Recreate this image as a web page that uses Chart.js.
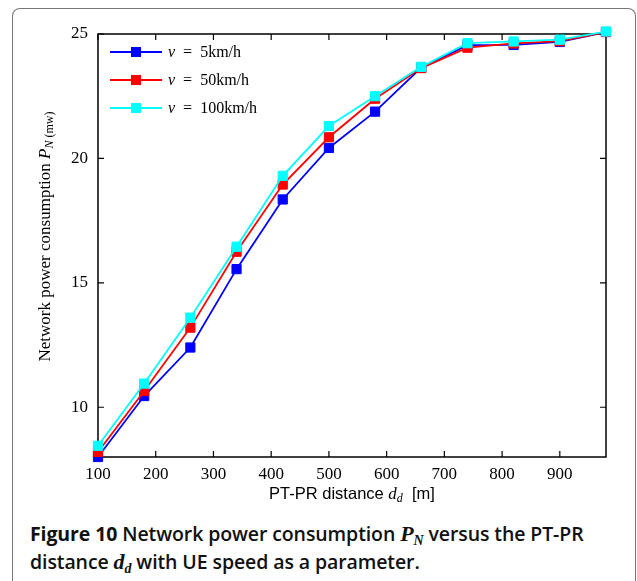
<!DOCTYPE html>
<html>
<head>
<meta charset="utf-8">
<script src="https://cdn.jsdelivr.net/npm/chart.js@4"></script>
<style>
  html, body { margin: 0; padding: 0; background: #fff; }
  #wrap { position: relative; width: 637px; height: 581px; overflow: hidden; }
  #frame { position: absolute; left: 12px; top: 8px; width: 622px; height: 600px;
           border: 1px solid #777; border-bottom: none; border-radius: 8px 8px 0 0; }
  #cv { position: absolute; left: 0; top: 0; }
  #caption { position: absolute; left: 30px; top: 520px; width: 600px;
             font-family: 'Open Sans', sans-serif; font-size: 19.5px; font-weight: 600;
             line-height: 28px; color: #111; letter-spacing: -0.1px; }
  #caption b { font-weight: 700; }
  #caption i { font-family: 'Liberation Serif', serif; font-weight: 700; font-size: 22px; }
  #caption sub { font-size: 14px; vertical-align: -4px; line-height: 0; }
</style>
</head>
<body>
<div id="wrap">
  <div id="frame"></div>
  <canvas id="cv" width="637" height="510"></canvas>
  <div id="caption"><b>Figure 10</b> Network power consumption <i>P<sub>N</sub></i> versus the PT-PR<br>distance <i>d<sub>d</sub></i> with UE speed as a parameter.</div>
</div>
<script>
const distance = [100, 180, 260, 340, 420, 500, 580, 660, 740, 820, 900, 980];
const v5 = [8.0, 10.45, 12.4, 15.55, 18.35, 20.42, 21.88, 23.65, 24.55, 24.56, 24.68, 25.08];
const v50 = [8.2, 10.65, 13.2, 16.25, 18.95, 20.85, 22.4, 23.63, 24.45, 24.62, 24.71, 25.08];
const v100 = [8.45, 10.95, 13.6, 16.45, 19.3, 21.3, 22.5, 23.68, 24.63, 24.7, 24.77, 25.1];
const speeds = ['5km/h', '50km/h', '100km/h'];
const xTicks = [100, 200, 300, 400, 500, 600, 700, 800, 900];
const yTicks = [10, 15, 20, 25];

const COLORS = ['#0000ff', '#ff0000', '#00ffff'];
const SERIF = "'Liberation Serif', serif";
const SANS = "'Liberation Sans', sans-serif";

// draw a list of text runs one after another, optionally centered on x
function drawRuns(ctx, runs, x, y, center) {
    let w = 0;
    runs.forEach(r => { ctx.font = r.font; w += ctx.measureText(r.text).width; });
    let cx = center ? x - w / 2 : x;
    runs.forEach(r => {
        ctx.font = r.font;
        ctx.fillText(r.text, cx, y + (r.dy || 0));
        cx += ctx.measureText(r.text).width;
    });
}

const framePlugin = {
    id: 'frame',
    beforeDatasetsDraw(chart) {
        const { ctx, chartArea: a, scales } = chart;
        ctx.save();
        ctx.strokeStyle = '#000';
        ctx.lineWidth = 1.5;
        ctx.strokeRect(a.left, a.top, a.right - a.left, a.bottom - a.top);
        ctx.lineWidth = 1.2;
        ctx.beginPath();
        xTicks.forEach(v => {
            const px = scales.x.getPixelForValue(v);
            ctx.moveTo(px, a.bottom); ctx.lineTo(px, a.bottom - 6);
            ctx.moveTo(px, a.top); ctx.lineTo(px, a.top + 6);
        });
        yTicks.forEach(v => {
            const py = scales.y.getPixelForValue(v);
            ctx.moveTo(a.left, py); ctx.lineTo(a.left + 6, py);
            ctx.moveTo(a.right, py); ctx.lineTo(a.right - 6, py);
        });
        ctx.stroke();
        ctx.restore();
    },
    afterDraw(chart) {
        const { ctx, chartArea: a } = chart;
        ctx.save();
        ctx.fillStyle = '#000';
        ctx.textBaseline = 'alphabetic';
        // legend
        speeds.forEach((s, i) => {
            const y = a.top + 18 + i * 28;
            ctx.strokeStyle = COLORS[i];
            ctx.lineWidth = 1.8;
            ctx.beginPath(); ctx.moveTo(110, y); ctx.lineTo(162, y); ctx.stroke();
            ctx.fillStyle = COLORS[i];
            ctx.fillRect(131, y - 5, 10, 10);
            ctx.fillStyle = '#000';
            drawRuns(ctx, [
                { text: 'v', font: 'italic 16px ' + SERIF },
                { text: '\u2002=\u2002' + s, font: '16px ' + SERIF }
            ], 168, y + 5, false);
        });
        // x title
        drawRuns(ctx, [
            { text: 'PT-PR distance ', font: '16.5px ' + SANS },
            { text: 'd', font: 'italic 17px ' + SERIF },
            { text: 'd', font: 'italic 12px ' + SERIF, dy: 3 },
            { text: '  [m]', font: '16.5px ' + SANS }
        ], (a.left + a.right) / 2, 499, true);
        // y title
        ctx.translate(50, (a.top + a.bottom) / 2 - 9);
        ctx.rotate(-Math.PI / 2);
        drawRuns(ctx, [
            { text: 'Network power consumption ', font: '17px ' + SERIF },
            { text: 'P', font: 'italic 17px ' + SERIF },
            { text: 'N', font: 'italic 12px ' + SERIF, dy: 3 },
            { text: ' (mw)', font: '12px ' + SERIF, dy: 3 }
        ], 0, 0, true);
        ctx.restore();
    }
};

function series(data, i, order) {
    return {
        label: 'v = ' + speeds[i],
        data: distance.map((d, k) => ({ x: d, y: data[k] })),
        borderColor: COLORS[i], backgroundColor: COLORS[i],
        pointBackgroundColor: COLORS[i], pointBorderColor: COLORS[i],
        borderWidth: 1.8, pointStyle: 'rect', pointRadius: 6.5, pointBorderWidth: 1,
        tension: 0, clip: false, order: order
    };
}

new Chart(document.getElementById('cv'), {
    type: 'line',
    data: { datasets: [series(v5, 0, 3), series(v50, 1, 2), series(v100, 2, 1)] },
    options: {
        responsive: false, animation: false,
        layout: { autoPadding: false, padding: { top: 34, right: 31, left: 0, bottom: 0 } },
        plugins: { legend: { display: false }, tooltip: { enabled: false } },
        scales: {
            x: {
                type: 'linear', min: 100, max: 980,
                afterBuildTicks: s => { s.ticks = xTicks.map(v => ({ value: v })); },
                afterFit: s => { s.height = 53; },
                grid: { display: false, drawTicks: false }, border: { display: false },
                ticks: { color: '#000', padding: 7, font: { family: SERIF, size: 17 }, maxRotation: 0 }
            },
            y: {
                min: 8, max: 25,
                afterBuildTicks: s => { s.ticks = yTicks.map(v => ({ value: v })); },
                afterFit: s => { s.width = 98; },
                grid: { display: false, drawTicks: false }, border: { display: false },
                ticks: { color: '#000', padding: 10, font: { family: SERIF, size: 17 } }
            }
        }
    },
    plugins: [framePlugin]
});
</script>
</body>
</html>
